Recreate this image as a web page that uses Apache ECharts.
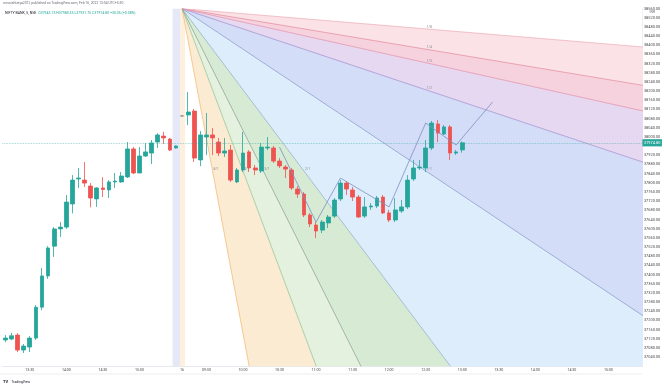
<!DOCTYPE html>
<html><head><meta charset="utf-8">
<script src="https://cdn.jsdelivr.net/npm/echarts@6/dist/echarts.min.js"></script>
<style>html,body{margin:0;padding:0;background:#fff}#c{width:664px;height:384px}</style>
</head><body><div id="c"></div>
<script>
// ---- categories (5-minute bars) ----
const day15Times = ['13:10','13:15','13:20','13:25','13:30','13:35','13:40','13:45','13:50','13:55','14:00','14:05','14:10','14:15','14:20','14:25','14:30','14:35','14:40','14:45','14:50','14:55','15:00','15:05','15:10','15:15','15:20','15:25','15:30'];
const day16Times = ['09:15','09:20','09:25','09:30','09:35','09:40','09:45','09:50','09:55','10:00','10:05','10:10','10:15','10:20','10:25','10:30','10:35','10:40','10:45','10:50','10:55','11:00','11:05','11:10','11:15','11:20','11:25','11:30','11:35','11:40','11:45','11:50','11:55','12:00','12:05','12:10','12:15','12:20','12:25','12:30','12:35','12:40','12:45','12:50','12:55','13:00','13:05','13:10','13:15','13:20','13:25','13:30','13:35','13:40','13:45','13:50','13:55','14:00','14:05','14:10','14:15','14:20','14:25','14:30','14:35','14:40','14:45','14:50','14:55','15:00','15:05','15:10','15:15','15:20','15:25'];
const dayBreakLabel = '16';

// ---- OHLC values ----
const opens  = [37115,37119,37136,37071,37084,37123,37258,37394,37524,37599,37607,37708,37817,37812,37786,37730,37778,37769,37804,37804,37826,37948,37843,37917,37930,37978,38004,37991,37952,
  38092,
  38096,38113,37900,38000,38009,37978,37930,37943,37804,37856,37935,37865,37852,37952,37952,37895,37869,37856,37773,37751,37660,37616,37594,37625,37655,37730,37799,37769,37738,37655,37695,37699,37738,37669,37638,37677,37695,37817,37865,37865,37952,38057,38013,38044,37930,37943.75];
const closes = [37123,37133,37071,37088,37123,37258,37394,37516,37599,37607,37716,37812,37821,37799,37734,37778,37771,37804,37808,37830,37948,37843,37917,37935,37974,38009,37996,37943,37961,
  38092,
  38109,37908,38009,38009,37996,37930,37939,37812,37856,37930,37865,37856,37956,37956,37895,37874,37860,37778,37751,37660,37621,37590,37629,37651,37725,37799,37773,37738,37651,37695,37699,37734,37669,37638,37682,37695,37812,37865,37869,37952,38061,38017,38044,37930,37935,37974.80];
const lows   = [37105,37114,37062,37058,37062,37115,37245,37381,37477,37564,37599,37667,37777,37782,37693,37695,37738,37734,37778,37800,37821,37838,37843,37913,37882,37952,37970,37939,37950,
  38092,
  38052,37891,37873,37921,37921,37917,37913,37804,37799,37847,37847,37834,37843,37943,37887,37865,37821,37769,37734,37651,37607,37559,37581,37603,37647,37721,37747,37721,37647,37647,37682,37690,37664,37629,37629,37669,37686,37808,37856,37847,37943,37978,38009,37900,37922,37931.75];
const highs  = [37136,37146,37145,37097,37132,37267,37429,37524,37607,37629,37747,37834,37865,37891,37799,37782,37825,37812,37843,37847,37978,37956,37956,37974,37987,38017,38022,37996,37963,
  38092,
  38196,38122,38026,38105,38039,37996,37996,37965,37865,38022,37943,37878,37974,38000,37961,37908,37878,37865,37786,37760,37668,37629,37638,37660,37734,37812,37808,37782,37747,37738,37712,37743,37747,37682,37734,37725,37834,37900,37900,37987,38070,38074,38052,38052,37943,37980.35];

// ---- drawing: zigzag ----
const zigzagBars   = [45, 51, 55, 63, 69, 74, 80];
const zigzagPrices = [37956, 37629, 37821, 37695, 38061, 37965, 38153];

// ---- drawing: Gann fan ----
const fanRatios = [8, 4, 3, 2, 1, 1/2, 1/3, 1/4, 1/8];
const fanLabels = ['8/1','4/1','3/1','2/1','1/1','1/2','1/3','1/4','1/8'];
const fanOriginBar = 29, fanOriginPrice = 38560;
const fanBoxBar = 69, fanBoxPrice = 37852;

const lastPrice = 37974.80;
const header1 = 'rnrunishtatya2012 published on TradingView.com, Feb 16, 2022 13:04 UTC+5:30';
const headerSymbol = 'NIFTY BANK, 5, NSE';
const headerValues = ['O37943.75', 'H37980.35', 'L37931.75', 'C37974.80', '+30.05 (+0.08%)'];

// ---- build ----
const categories = [...day15Times.map(t => '15 ' + t), dayBreakLabel, ...day16Times.map(t => '16 ' + t)];
const candleData = opens.map((o, i) => {
  const item = {value: [o, closes[i], lows[i], highs[i]]};
  if (o === closes[i]) item.itemStyle = {color: '#787b86', borderColor: '#787b86'};
  return item;
});
const zigzagData = zigzagBars.map((b, i) => [b, zigzagPrices[i]]);

const fanFills = ['#fcebd3', '#e3f1de', '#d6ead4', '#ddedfb', '#d4ddf8', '#e6d8f1', '#f6d2de', '#fbe2e6'];
const fanLineColors = ['#f2b46c', '#8fbf8c', '#8a9c8a', '#8aa7c4', '#7f93c4', '#9a8cc8', '#e08ca6', '#e38497', '#eeaab5'];

function renderFan(params, api) {
  const cs = params.coordSys;
  const o = api.coord([fanOriginBar, fanOriginPrice]);
  const o1 = api.coord([fanOriginBar + 1, fanOriginPrice]);
  const barPx = o1[0] - o[0];
  const pp = api.coord([fanOriginBar, fanOriginPrice - 100]);
  const pxPerPrice = (pp[1] - o[1]) / 100;
  const slope1 = (fanOriginPrice - fanBoxPrice) / (fanBoxBar - fanOriginBar);
  const x0 = api.coord([0, fanOriginPrice])[0];
  const xOf = f => x0 + f * barPx;
  const far = fanRatios.map(k => {
    const dx = barPx, dy = k * slope1 * pxPerPrice;
    const len = Math.sqrt(dx * dx + dy * dy);
    return [o[0] + dx / len * 3000, o[1] + dy / len * 3000];
  });
  const children = [];
  // vertical bands near the session break
  children.push({type: 'rect', shape: {x: xOf(27.43), y: cs.y, width: xOf(28.66) - xOf(27.43), height: cs.height}, style: {fill: '#e6e8f8'}});
  children.push({type: 'rect', shape: {x: xOf(28.66), y: cs.y, width: xOf(29.48) - xOf(28.66), height: cs.height}, style: {fill: '#fdf0df'}});
  for (let i = 0; i < fanRatios.length - 1; i++) {
    children.push({type: 'polygon', shape: {points: [o, far[i], far[i + 1]]}, style: {fill: fanFills[i]}});
  }
  for (let i = 0; i < fanRatios.length; i++) {
    children.push({type: 'line', shape: {x1: o[0], y1: o[1], x2: far[i][0], y2: far[i][1]}, style: {stroke: fanLineColors[i], lineWidth: 0.7}});
  }
  const bx = xOf(fanBoxBar), by = api.coord([0, fanBoxPrice])[1];
  fanRatios.forEach((k, i) => {
    const m = k * slope1 * pxPerPrice / barPx;
    let tx, ty;
    if (k <= 1) { tx = bx; ty = o[1] + (bx - o[0]) * m; }
    else { ty = by; tx = o[0] + (by - o[1]) / m; }
    children.push({type: 'text', style: {text: fanLabels[i], x: tx + 1, y: ty - 0.5, fill: '#8a8d96', fontSize: 3.4, fontFamily: 'Roboto', align: 'left', verticalAlign: 'bottom'}});
  });
  return {type: 'group', children};
}

const chart = echarts.init(document.getElementById('c'), null, {renderer: 'canvas'});
chart.setOption({
  animation: false,
  backgroundColor: '#ffffff',
  grid: {left: 2.4, right: 22.1, top: 8.6, bottom: 17.7, containLabel: false},
  xAxis: {
    type: 'category', data: categories, boundaryGap: true,
    axisLine: {show: true, lineStyle: {color: '#e0e3eb', width: 0.8}},
    axisTick: {show: false}, splitLine: {show: false},
    axisLabel: {
      interval: (idx, val) => idx !== 28 && (val === dayBreakLabel || /:(00|30)$/.test(val)),
      formatter: v => v === dayBreakLabel ? v : v.slice(3),
      fontSize: 3.6, color: '#4a4a4a', margin: 2.2, fontFamily: 'Roboto'
    }
  },
  yAxis: {
    type: 'value', position: 'right', min: 37000, max: 38560, interval: 40, scale: true,
    axisLine: {show: true, lineStyle: {color: '#eceef3', width: 0.8}},
    axisTick: {show: false}, splitLine: {show: false},
    axisLabel: {
      formatter: v => (v === 37000 || v === 37960) ? '' : v.toFixed(2),
      fontSize: 3.9, color: '#4a4a4a', margin: 2, fontFamily: 'Roboto'
    }
  },
  series: [
    {type: 'custom', renderItem: renderFan, data: [[0]], clip: true, silent: true, z: 1},
    {
      type: 'candlestick', data: candleData, barWidth: 4.2, z: 3,
      itemStyle: {color: '#26a69a', color0: '#ef5350', borderColor: '#26a69a', borderColor0: '#ef5350', borderWidth: 0.8},
      markLine: {
        silent: true, symbol: ['none', 'none'], animation: false,
        lineStyle: {type: 'dotted', color: 'rgba(38,166,154,0.55)', width: 0.8},
        label: {show: true, position: 'end', distance: 0.5, formatter: lastPrice.toFixed(2), backgroundColor: '#26a69a', color: '#ffffff', fontSize: 3.9, padding: [1.6, 1.6], fontFamily: 'Roboto'},
        data: [{yAxis: lastPrice}]
      }
    },
    {
      type: 'line', data: zigzagData, symbol: 'none', z: 4,
      lineStyle: {color: '#7b8fc4', width: 0.8}
    }
  ],
  graphic: [
    {type: 'text', left: 3, top: 2, style: {text: header1, fill: '#6a6d78', fontSize: 3.4, fontFamily: 'Roboto'}},
    {type: 'text', left: 5, top: 11, style: {
      text: '{n|' + headerSymbol + '}  ' + headerValues.map(v => '{v|' + v + '}').join(' '),
      rich: {n: {fill: '#131722', fontSize: 3.5, fontFamily: 'Roboto'}, v: {fill: '#26a69a', fontSize: 3.5, fontFamily: 'Roboto'}},
      fontSize: 3.5
    }},
    {type: 'text', right: 9, top: 11, style: {text: 'INR', fill: '#6a6d78', fontSize: 3.4, fontFamily: 'Roboto'}},
    {type: 'line', shape: {x1: 0, y1: 374, x2: 642, y2: 374}, style: {stroke: '#e0e3eb', lineWidth: 0.6}},
    {type: 'text', left: 3, top: 376, style: {text: '{l|TV} {t|TradingView}', rich: {l: {fill: '#131722', fontSize: 4, fontWeight: 'bold', fontFamily: 'Roboto'}, t: {fill: '#131722', fontSize: 3.4, fontFamily: 'Roboto'}}}}
  ]
});
</script>
</body></html>
